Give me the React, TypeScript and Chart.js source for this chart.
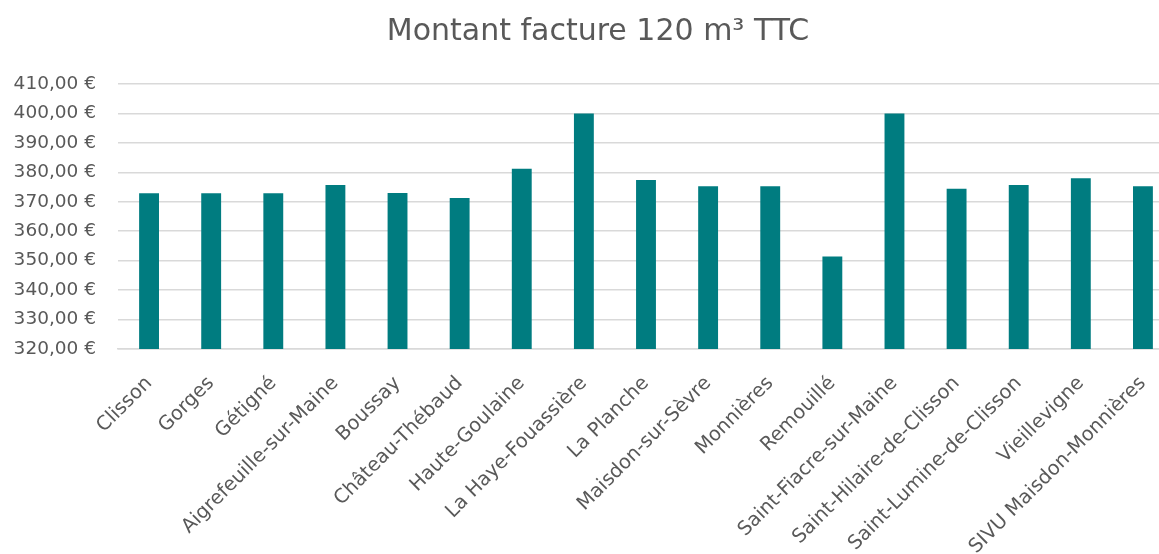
import { useEffect, useRef } from 'react';
import { Chart, registerables } from 'chart.js';

Chart.register(...registerables);

const categories = [
  'Clisson',
  'Gorges',
  'Gétigné',
  'Aigrefeuille-sur-Maine',
  'Boussay',
  'Château-Thébaud',
  'Haute-Goulaine',
  'La Haye-Fouassière',
  'La Planche',
  'Maisdon-sur-Sèvre',
  'Monnières',
  'Remouillé',
  'Saint-Fiacre-sur-Maine',
  'Saint-Hilaire-de-Clisson',
  'Saint-Lumine-de-Clisson',
  'Vieillevigne',
  'SIVU Maisdon-Monnières',
];

const amounts = [
  372.9, 372.9, 372.9, 375.7, 373.0, 371.3, 381.2, 400.0, 377.4,
  375.3, 375.3, 351.4, 400.0, 374.4, 375.7, 378.0, 375.3,
];

const yMin = 320;
const yMax = 410;
const yStep = 10;
const chartTitle = 'Montant facture 120 m³ TTC';

const FONT = '"DejaVu Sans", "Open Sans", sans-serif';
const TEXT = '#595959';
const GRID = '#d9d9d9';

const fmtEuro = (v: number) => v.toFixed(2).replace('.', ',') + '\u00a0€';

export default function App() {
  const ref = useRef<HTMLCanvasElement>(null);

  useEffect(() => {
    if (!ref.current) return;
    const chart = new Chart(ref.current, {
      type: 'bar',
      data: {
        labels: categories,
        datasets: [
          {
            data: amounts,
            backgroundColor: '#007C80',
            borderWidth: 0,
            barPercentage: 0.32,
            categoryPercentage: 1,
          },
        ],
      },
      options: {
        animation: false,
        responsive: false,
        devicePixelRatio: 1,
        layout: { padding: { left: 0, right: 0, top: 0, bottom: 0 } },
        plugins: {
          legend: { display: false },
          tooltip: { enabled: false },
          title: {
            display: true,
            text: chartTitle,
            color: TEXT,
            font: { family: FONT, size: 30, weight: 'normal', lineHeight: 1.2 },
            padding: { top: 14, bottom: 34 },
          },
        },
        scales: {
          x: {
            grid: { display: false },
            border: { display: true, color: GRID, width: 1.5 },
            ticks: {
              color: TEXT,
              font: { family: FONT, size: 19.5 },
              minRotation: 45,
              maxRotation: 45,
              autoSkip: false,
              padding: 15,
            },
            afterFit: (s: any) => {
              s.height = 205;
            },
          },
          y: {
            min: yMin,
            max: yMax,
            grid: { color: GRID, lineWidth: 1.5, drawTicks: false },
            border: { display: false },
            ticks: {
              stepSize: yStep,
              color: TEXT,
              font: { family: FONT, size: 18.5 },
              padding: 22,
              callback: (v: any) => fmtEuro(Number(v)),
            },
            afterFit: (s: any) => {
              s.width = 118;
            },
          },
          yRight: {
            position: 'right',
            min: yMin,
            max: yMax,
            grid: { display: false },
            border: { display: false },
            ticks: { display: false },
            afterFit: (s: any) => {
              s.width = 22;
            },
          },
        },
      },
    } as any);
    return () => chart.destroy();
  }, []);

  return (
    <div
      style={{
        position: 'fixed',
        left: 0,
        top: 0,
        width: 1159,
        height: 554,
        overflow: 'hidden',
        background: '#fff',
      }}
    >
      <canvas ref={ref} width={1196} height={554} style={{ display: 'block' }} />
    </div>
  );
}
